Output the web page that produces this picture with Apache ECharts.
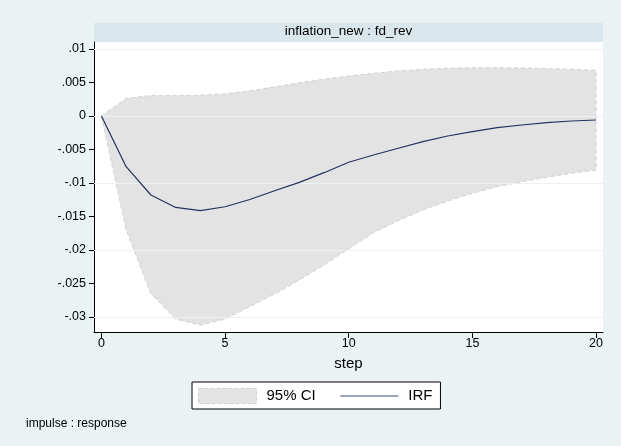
<!DOCTYPE html>
<html>
<head>
<meta charset="utf-8">
<script src="https://cdn.jsdelivr.net/npm/echarts@6/dist/echarts.min.js"></script>
<style>
html,body{margin:0;padding:0;background:#eaf2f3;}
#c{width:621px;height:446px;}
</style>
</head>
<body>
<div id="c"></div>
<script>
// ---- data ----
const steps = [0,1,2,3,4,5,6,7,8,9,10,11,12,13,14,15,16,17,18,19,20];
const irf   = [0,-0.00757,-0.01179,-0.01365,-0.01413,-0.01355,-0.01246,-0.01115,-0.0099,-0.00846,-0.0069,-0.00582,-0.00482,-0.00383,-0.00299,-0.00234,-0.00174,-0.00134,-0.00099,-0.00075,-0.0006];
const ciUpper = [0,0.00264,0.00305,0.00305,0.0031,0.0033,0.00375,0.00435,0.00495,0.0055,0.00597,0.00637,0.00672,0.00697,0.00712,0.0072,0.00722,0.00718,0.00708,0.00698,0.00682];
const ciLower = [0,-0.0170,-0.0265,-0.0303,-0.0312,-0.0303,-0.02846,-0.02657,-0.02448,-0.02224,-0.0198,-0.01741,-0.01562,-0.01403,-0.01269,-0.01154,-0.01055,-0.0098,-0.00915,-0.00856,-0.00806];
const xTickValues = [0,5,10,15,20];
const yTickValues = [0.01,0.005,0,-0.005,-0.01,-0.015,-0.02,-0.025,-0.03];
const yTickLabels = ['.01','.005','0','-.005','-.01','-.015','-.02','-.025','-.03'];
const panelTitle = 'inflation_new : fd_rev';
const xAxisTitle = 'step';
const noteText = 'impulse : response';
const seriesNames = ['95% CI','IRF'];

const FONT = '"Liberation Sans", Arial, sans-serif';
const chart = echarts.init(document.getElementById('c'), null, {renderer:'canvas'});

const option = {
  backgroundColor: '#eaf2f3',
  animation: false,
  textStyle: {fontFamily: FONT, color: '#000'},
  title: [
    {text: panelTitle, left: 348.5, textAlign: 'center', top: 24.5, padding: 0,
     textStyle: {fontFamily: FONT, fontSize: 13.5, fontWeight: 'normal', color: '#000'}},
    {text: noteText, left: 26, top: 418, padding: 0,
     textStyle: {fontFamily: FONT, fontSize: 12, fontWeight: 'normal', color: '#000'}}
  ],
  graphic: [
    {type: 'rect', z: -1, shape: {x: 94, y: 23, width: 509, height: 19}, style: {fill: '#d9e6eb'}}
  ],
  grid: {left: 94, top: 42, width: 509, height: 290, show: true, backgroundColor: '#ffffff', borderWidth: 0, containLabel: false},
  legend: {
    left: 192, top: 382,
    padding: [6, 8, 5, 6],
    itemGap: 24, itemWidth: 58, itemHeight: 15,
    backgroundColor: '#ffffff', borderColor: '#000', borderWidth: 1, borderRadius: 0,
    textStyle: {fontFamily: FONT, fontSize: 15, color: '#000', padding: [0,0,0,5]},
    data: [
      {name: seriesNames[0], icon: 'rect', itemStyle: {color: '#e3e3e3', borderColor: '#cdd2d2', borderWidth: 1, borderType: 'dashed'}},
      {name: seriesNames[1], itemStyle: {opacity: 0, borderWidth: 0}, lineStyle: {color: '#3a4877', width: 1.2, opacity: 1}}
    ]
  },
  xAxis: {
    type: 'value', min: -0.3, max: 20.28,
    name: xAxisTitle, nameLocation: 'middle', nameGap: 24,
    nameTextStyle: {fontFamily: FONT, fontSize: 15, color: '#000'},
    axisLine: {show: true, onZero: false, lineStyle: {color: '#000', width: 1}},
    axisTick: {show: true, length: 6, customValues: xTickValues, lineStyle: {color: '#000'}},
    axisLabel: {show: true, customValues: xTickValues, margin: 5, fontFamily: FONT, fontSize: 12.5, color: '#000'},
    splitLine: {show: false}
  },
  yAxis: {
    type: 'value', min: -0.03224, max: 0.011045,
    axisLine: {show: true, onZero: false, lineStyle: {color: '#000', width: 1}},
    axisTick: {show: true, length: 5, customValues: yTickValues, lineStyle: {color: '#000'}},
    axisLabel: {show: true, customValues: yTickValues, margin: 8, fontFamily: FONT, fontSize: 12.5, color: '#000',
      formatter: function (v) {
        for (let i = 0; i < yTickValues.length; i++) {
          if (Math.abs(yTickValues[i] - v) < 1e-9) return yTickLabels[i];
        }
        return '';
      }},
    splitLine: {show: false}
  },
  series: [
    {
      name: seriesNames[0],
      type: 'custom',
      z: 1,
      silent: true,
      itemStyle: {color: '#e3e3e3'},
      data: [[0, 0]],
      renderItem: function (params, api) {
        const pts = [];
        for (let i = 0; i < steps.length; i++) pts.push(api.coord([steps[i], ciUpper[i]]));
        for (let i = steps.length - 1; i >= 0; i--) pts.push(api.coord([steps[i], ciLower[i]]));
        return {
          type: 'polygon',
          shape: {points: pts},
          style: {fill: '#e3e3e3', stroke: '#cdd2d2', lineWidth: 1, lineDash: [4, 3]}
        };
      },
      markLine: {
        silent: true, symbol: 'none', z: 3, animation: false,
        label: {show: false},
        lineStyle: {color: '#eaf2f3', width: 1, type: 'solid'},
        emphasis: {disabled: true},
        data: yTickValues.map(v => ({yAxis: v}))
      }
    },
    {
      name: seriesNames[1],
      type: 'line',
      z: 6,
      symbol: 'none',
      showSymbol: false,
      smooth: false,
      lineStyle: {color: '#25325f', width: 1.2},
      itemStyle: {color: '#25325f'},
      data: steps.map((s, i) => [s, irf[i]])
    }
  ]
};
chart.setOption(option);
</script>
</body>
</html>
